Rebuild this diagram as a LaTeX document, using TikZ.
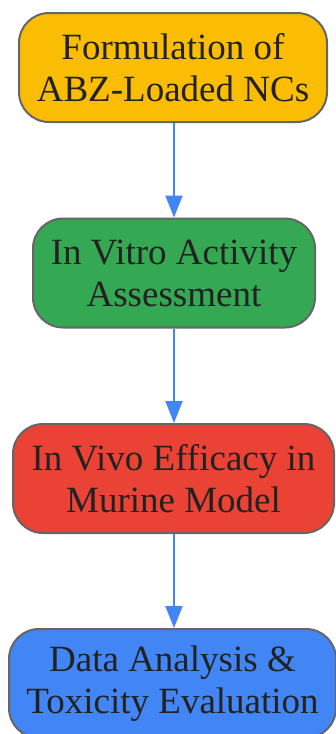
\documentclass[tikz,border=0pt]{standalone}
\usepackage{fontspec}
\setmainfont{Liberation Serif}
\usetikzlibrary{arrows.meta}
\definecolor{stepyellow}{HTML}{FBBC04}
\definecolor{stepgreen}{HTML}{34A853}
\definecolor{stepred}{HTML}{EA4335}
\definecolor{stepblue}{HTML}{4285F4}
\definecolor{edgegray}{HTML}{666666}
\definecolor{inkgray}{HTML}{222222}

\begin{document}
\begin{tikzpicture}[x=1pt,y=1pt,
    stepbox/.style={draw=edgegray, line width=2pt, rounded corners=30pt,
      minimum height=109pt, align=center, text=inkgray, inner sep=0pt,
      font=\fontsize{37}{42}\selectfont},
    flow/.style={stepblue, line width=2pt, -{Triangle[length=22pt,width=17pt]}}]
    \useasboundingbox (0,0) rectangle (336,-734);

    \node[stepbox, fill=stepyellow, minimum width=308pt] (form) at (173,-67.5) {Formulation of\\ABZ-Loaded NCs};
    \node[stepbox, fill=stepgreen, minimum width=282pt] (vitro) at (174,-273) {In Vitro Activity\\Assessment};
    \node[stepbox, fill=stepred, minimum width=321pt] (vivo) at (173.5,-478.5) {In Vivo Efficacy in\\Murine Model};
    \node[stepbox, fill=stepblue, minimum width=327pt] (data) at (172.5,-683.5) {Data Analysis \&\\Toxicity Evaluation};

    % straight down the middle
    \draw[flow] (form.south -| vitro) -- (vitro.north);
    \draw[flow] (vitro.south) -- (vivo.north -| vitro);
    \draw[flow] (vivo.south -| vitro) -- (data.north -| vitro);
\end{tikzpicture}
\end{document}
